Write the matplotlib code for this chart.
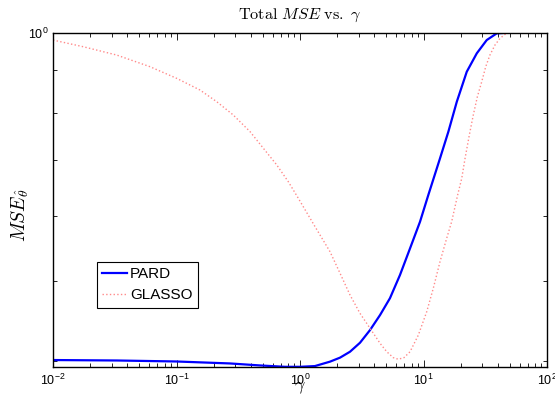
import matplotlib
matplotlib.use('Agg')
import matplotlib.pyplot as plt
from matplotlib.ticker import LogLocator, NullFormatter, LogFormatterSciNotation

plt.rcParams['font.family'] = 'Liberation Sans'
plt.rcParams['mathtext.fontset'] = 'cm'

# values
gamma_pard = [0.01, 0.033, 0.099, 0.271, 0.474, 0.756, 1.0, 1.32, 1.75, 2.11, 2.54, 3.06,
              3.69, 4.45, 5.35, 6.45, 7.78, 9.37, 10.94, 13.6, 15.9, 18.6, 22.4, 27.0,
              32.5, 39.2, 50.1, 100]
mse_pard = [0.4013, 0.4008, 0.3997, 0.3975, 0.3953, 0.3938, 0.3938, 0.3946, 0.3995, 0.4040,
            0.4107, 0.4211, 0.4363, 0.4550, 0.4768, 0.5087, 0.5479, 0.5901, 0.6358, 0.7041,
            0.7586, 0.8245, 0.8965, 0.9437, 0.9793, 0.9978, 1.0, 1.0]

gamma_glasso = [0.01, 0.0176, 0.0328, 0.061, 0.1004, 0.155, 0.212, 0.288, 0.394, 0.504,
                0.648, 0.804, 0.969, 1.30, 1.75, 2.11, 2.54, 3.06, 3.69, 4.45, 5.04, 5.69,
                6.25, 6.95, 7.78, 9.08, 10.62, 12.0, 13.6, 15.4, 16.9, 18.9, 20.4, 21.7,
                23.5, 25.3, 27.3, 29.6, 31.9, 34.5, 37.9, 41.6, 45.7, 50.1, 100]
mse_glasso = [0.9793, 0.9612, 0.9392, 0.9092, 0.8801, 0.8519, 0.8245, 0.7947, 0.7586, 0.7245,
              0.6914, 0.6598, 0.6300, 0.5847, 0.5428, 0.5111, 0.4811, 0.4571, 0.4384, 0.4204,
              0.4107, 0.4040, 0.4022, 0.4040, 0.4107, 0.4302, 0.4592, 0.4901, 0.5279, 0.5634,
              0.5901, 0.6358, 0.6661, 0.7041, 0.7516, 0.7947, 0.8363, 0.8718, 0.9092, 0.9392,
              0.9658, 0.9839, 0.9950, 1.0, 1.0]

fig = plt.figure(figsize=(5.55, 3.97), dpi=100)
ax = fig.add_axes([0.0955, 0.0756, 0.8901, 0.8424])

ax.plot(gamma_pard, mse_pard, color='#0000ff', lw=1.6, label='PARD')
ax.plot(gamma_glasso, mse_glasso, color='#ff8a8a', lw=1.0, ls=':', label='GLASSO')

ax.set_xscale('log')
ax.set_yscale('log')
ax.set_xlim(1e-2, 1e2)
ax.set_ylim(0.3936, 1.0)

ax.yaxis.set_major_locator(LogLocator(base=10))
ax.yaxis.set_minor_locator(LogLocator(base=10, subs=[0.4, 0.5, 0.6, 0.7, 0.8, 0.9]))
ax.yaxis.set_major_formatter(LogFormatterSciNotation())
ax.yaxis.set_minor_formatter(NullFormatter())
ax.xaxis.set_minor_formatter(NullFormatter())

ax.tick_params(which='both', direction='in', top=True, right=True, labelsize=9, width=0.6)
ax.tick_params(which='major', length=5)
ax.tick_params(which='minor', length=3)
ax.tick_params(axis='x', pad=4)
for s in ax.spines.values():
    s.set_linewidth(1.0)

ax.set_title(r'$\mathrm{Total}\ MSE\ \mathrm{vs.}\ \gamma$', fontsize=11.7, pad=10)
ax.set_xlabel(r'$\gamma$', fontsize=13)
ax.xaxis.set_label_coords(0.5, -0.036)
ax.set_ylabel(r'$MSE_{\hat{\theta}}$', fontsize=14)
ax.yaxis.set_label_coords(-0.045, 0.454)

leg = ax.legend(loc='upper left', bbox_to_anchor=(0.089, 0.314), fontsize=11,
                handlelength=1.6, handletextpad=0.2, borderpad=0.35, labelspacing=0.45,
                fancybox=False, framealpha=1, edgecolor='black', borderaxespad=0)
leg.get_frame().set_linewidth(0.8)

fig.savefig('out.png', dpi=100)
